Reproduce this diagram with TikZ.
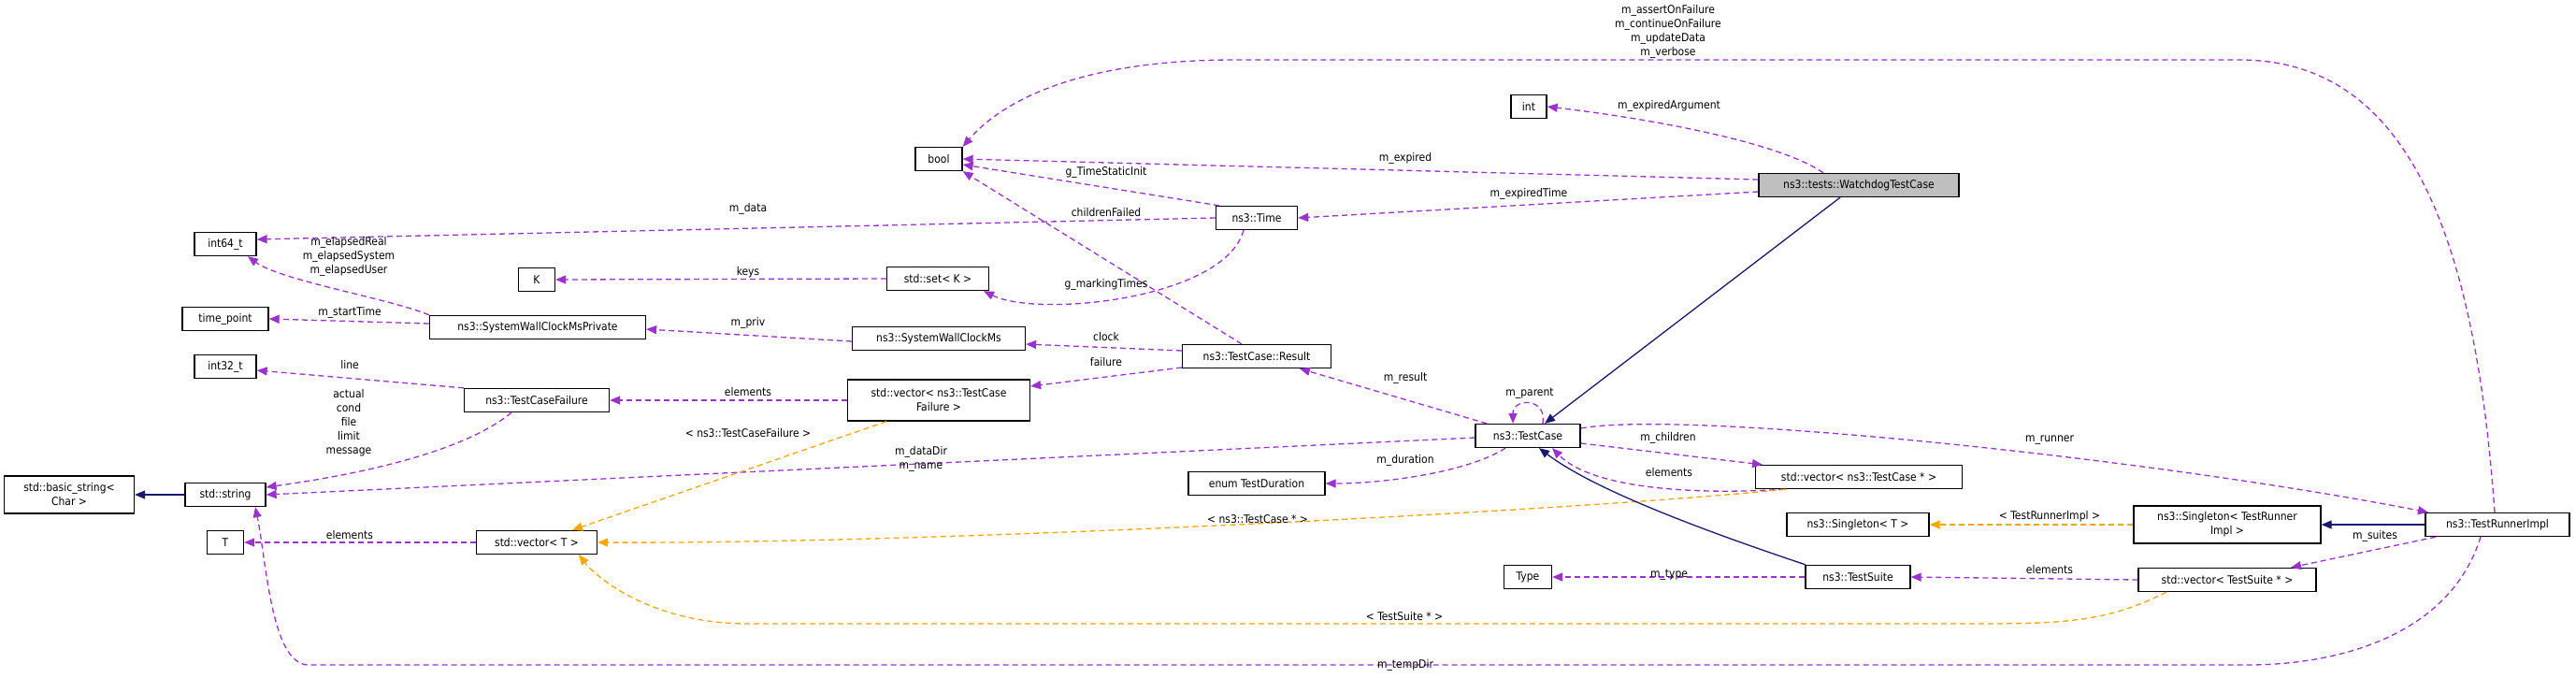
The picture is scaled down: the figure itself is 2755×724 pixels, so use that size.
\documentclass[tikz,border=0pt]{standalone}
\usepackage{fontspec}
\setmainfont{DejaVu Sans Condensed}
\usetikzlibrary{arrows.meta}
\definecolor{use}{HTML}{9A32CD}
\definecolor{tmpl}{HTML}{FFA500}
\definecolor{inh}{HTML}{191970}
\begin{document}
\begin{tikzpicture}[x=1pt,y=-1pt,
  every node/.style={font=\fontsize{12}{15}\selectfont},
  box/.style={draw=black,line width=1.3pt,fill=white,inner sep=0pt,minimum height=25pt,align=center},
  lbl/.style={inner sep=0pt,align=center},
  tip/.style={-{Triangle[length=11pt,width=9pt]}},
  usee/.style={tip,draw=use,line width=1.3pt,dash pattern=on 6pt off 4pt},
  tmpe/.style={tip,draw=tmpl,line width=1.3pt,dash pattern=on 6pt off 4pt},
  inhe/.style={tip,draw=inh,line width=1.3pt}]
\useasboundingbox (0,0) rectangle (2755,724);
% nodes
\node[box,minimum width=66pt] (int64) at (241,261) {int64\_t};
\node[box,minimum width=39pt] (K) at (574,299) {K};
\node[box,minimum width=92pt] (timept) at (241,341) {time\_point};
\node[box,minimum width=231pt] (swcmp) at (575,350) {ns3::SystemWallClockMsPrivate};
\node[box,minimum width=66pt] (int32) at (241,392) {int32\_t};
\node[box,minimum width=155pt] (tcf) at (574,428) {ns3::TestCaseFailure};
\node[box,minimum width=139pt,minimum height=40pt] (bstr) at (74,529) {std::basic\_string\textless\\Char \textgreater};
\node[box,minimum width=86pt] (str) at (241,529) {std::string};
\node[box,minimum width=39pt] (T) at (241,580) {T};
\node[box,minimum width=129pt] (vecT) at (574,580) {std::vector\textless{} T \textgreater};
\node[box,minimum width=50pt] (bool) at (1004,170) {bool};
\node[box,minimum width=38pt] (int) at (1635,114) {int};
\node[box,minimum width=214pt,fill={rgb,255:red,191;green,191;blue,191}] (wd) at (1988,198) {ns3::tests::WatchdogTestCase};
\node[box,minimum width=87pt] (time) at (1344,233) {ns3::Time};
\node[box,minimum width=109pt] (setK) at (1003,298) {std::set\textless{} K \textgreater};
\node[box,minimum width=185pt] (swcm) at (1004,362) {ns3::SystemWallClockMs};
\node[box,minimum width=159pt] (result) at (1344,381) {ns3::TestCase::Result};
\node[box,minimum width=195pt,minimum height=44pt] (vtcf) at (1004,428) {std::vector\textless{} ns3::TestCase\\Failure \textgreater};
\node[box,minimum width=112pt] (tc) at (1634,466) {ns3::TestCase};
\node[box,minimum width=221pt] (vtc) at (1988,510) {std::vector\textless{} ns3::TestCase * \textgreater};
\node[box,minimum width=152pt] (singT) at (1987,561) {ns3::Singleton\textless{} T \textgreater};
\node[box,minimum width=200pt,minimum height=40pt] (singTRI) at (2382,561) {ns3::Singleton\textless{} TestRunner\\Impl \textgreater};
\node[box,minimum width=154pt] (tri) at (2671,561) {ns3::TestRunnerImpl};
\node[box,minimum width=51pt] (type) at (1634,617) {Type};
\node[box,minimum width=112pt] (ts) at (1987,617) {ns3::TestSuite};
\node[box,minimum width=190pt] (vts) at (2382,620) {std::vector\textless{} TestSuite * \textgreater};
\node[box,minimum width=146pt] (enum) at (1344,517) {enum TestDuration};
% usage edges
\draw[usee] ([xshift=-38pt]wd.north) .. controls (1900,150) and (1750,125) .. (int.east);
\draw[usee] ([yshift=6pt]wd.west) -- (bool.east);
\draw[usee] ([yshift=-7pt]wd.west) -- (time.east);
\draw[usee] ([xshift=-40pt]time.north) -- ([yshift=-6pt]bool.east);
\draw[usee] (time.west) -- ([yshift=5pt]int64.east);
\draw[usee] ([xshift=-14pt]time.south) .. controls (1310,320) and (1110,340) .. ([xshift=49pt]setK.south);
\draw[usee] (setK.west) -- (K.east);
\draw[usee] (swcmp.north west) .. controls (420,320) and (300,300) .. ([xshift=24pt]int64.south);
\draw[usee] ([yshift=4pt]swcmp.west) -- (timept.east);
\draw[usee] ([yshift=-3pt]swcm.west) -- ([yshift=-2pt]swcmp.east);
\draw[usee] ([yshift=6pt]result.west) -- ([yshift=-6pt]swcm.east);
\draw[usee] ([yshift=-12pt]result.west) -- ([yshift=15pt]vtcf.east);
\draw[usee] ([xshift=-16pt]result.north) -- (bool.south east);
\draw[usee] (vtcf.west) -- (tcf.east);
\draw[usee] (tcf.north west) -- ([yshift=-4pt]int32.east);
\draw[usee] ([xshift=-27pt]tcf.south) .. controls (500,480) and (400,505) .. ([yshift=8pt]str.east);
\draw[usee] ([yshift=-2pt]tc.west) -- (str.east);
\draw[usee] (vecT.west) -- (T.east);
\draw[usee] ([xshift=-44pt]tc.north) -- ([xshift=46pt]result.south);
\draw[usee] ([xshift=16pt]tc.north) .. controls (1655,425) and (1618,425) .. ([xshift=-16pt]tc.north);
\draw[usee] ([xshift=-24pt]tc.south) .. controls (1570,505) and (1480,517) .. (enum.east);
\draw[usee] ([yshift=-8pt]tc.east) -- ([xshift=-103pt]vtc.north);
\draw[usee] ([xshift=-80pt]vtc.south) .. controls (1800,530) and (1700,520) .. ([xshift=26pt]tc.south);
\draw[usee] ([yshift=8pt]tc.east) .. controls (1800,438) and (2300,490) .. ([xshift=-74pt]tri.north);
\draw[usee] ([xshift=-66pt]tri.south) -- ([xshift=68pt]vts.north);
\draw[usee] (vts.west) -- (ts.east);
\draw[usee] (ts.west) -- (type.east);
\draw[usee] ([xshift=-3pt]tri.north) .. controls (2645,220) and (2560,64) .. (2395,64) -- (1321,64) .. controls (1150,64) and (1070,110) .. (bool.north east);
\draw[usee] ([xshift=-18pt]tri.south) .. controls (2620,680) and (2500,711) .. (2404,711) -- (330,711) .. controls (290,711) and (285,600) .. ([xshift=32pt]str.south);
% template edges
\draw[tmpe] ([xshift=-56pt]vtcf.south) -- ([xshift=38pt]vecT.north);
\draw[tmpe] ([xshift=-78pt]vtc.south) .. controls (1700,545) and (1000,582) .. (vecT.east);
\draw[tmpe] ([xshift=-65pt]vts.south) .. controls (2250,667) and (2200,667) .. (2100,667) -- (800,667) .. controls (700,667) and (640,620) .. ([xshift=45pt]vecT.south);
\draw[tmpe] (singTRI.west) -- (singT.east);
% inheritance edges
\draw[inhe] ([xshift=-20pt]wd.south) -- ([xshift=18pt]tc.north);
\draw[inhe] ([xshift=-56pt]ts.north) .. controls (1800,560) and (1700,520) .. ([xshift=12pt]tc.south);
\draw[inhe] (tri.west) -- (singTRI.east);
\draw[inhe] (str.west) -- (bstr.east);
% labels
\node[lbl] (l1) at (1784,34) {m\_assertOnFailure\\m\_continueOnFailure\\m\_updateData\\m\_verbose};
\node[lbl] (l2) at (1785,113) {m\_expiredArgument};
\node[lbl] (l3) at (1503,169) {m\_expired};
\node[lbl] (l4) at (1183,184) {g\_TimeStaticInit};
\node[lbl] (l5) at (1635,207) {m\_expiredTime};
\node[lbl] (l6) at (1183,227) {childrenFailed};
\node[lbl] (l7) at (800,223) {m\_data};
\node[lbl] (l8) at (373,274) {m\_elapsedReal\\m\_elapsedSystem\\m\_elapsedUser};
\node[lbl] (l9) at (800,291) {keys};
\node[lbl] (l10) at (1183,304) {g\_markingTimes};
\node[lbl] (l11) at (374,334) {m\_startTime};
\node[lbl] (l12) at (800,345) {m\_priv};
\node[lbl] (l13) at (1183,360) {clock};
\node[lbl] (l14) at (1183,387) {failure};
\node[lbl] (l15) at (374,390) {line};
\node[lbl] (l16) at (1503,404) {m\_result};
\node[lbl] (l17) at (800,419) {elements};
\node[lbl] (l18) at (1636,421) {m\_parent};
\node[lbl] (l19) at (373,452) {actual\\cond\\file\\limit\\message};
\node[lbl] (l20) at (800,463) {\textless{} ns3::TestCaseFailure \textgreater};
\node[lbl] (l21) at (1784,468) {m\_children};
\node[lbl] (l22) at (2192,471) {m\_runner};
\node[lbl] (l23) at (985,491) {m\_dataDir\\m\_name};
\node[lbl] (l24) at (1503,492) {m\_duration};
\node[lbl] (l25) at (1785,505) {elements};
\node[lbl] (l26) at (2192,552) {\textless{} TestRunnerImpl \textgreater};
\node[lbl] (l27) at (1345,555) {\textless{} ns3::TestCase * \textgreater};
\node[lbl] (l28) at (2540,573) {m\_suites};
\node[lbl] (l29) at (374,572) {elements};
\node[lbl] (l30) at (2192,609) {elements};
\node[lbl] (l31) at (1785,615) {m\_type};
\node[lbl] (l32) at (1502,659) {\textless{} TestSuite * \textgreater};
\node[lbl] (l33) at (1503,711) {m\_tempDir};
\end{tikzpicture}
\end{document}
